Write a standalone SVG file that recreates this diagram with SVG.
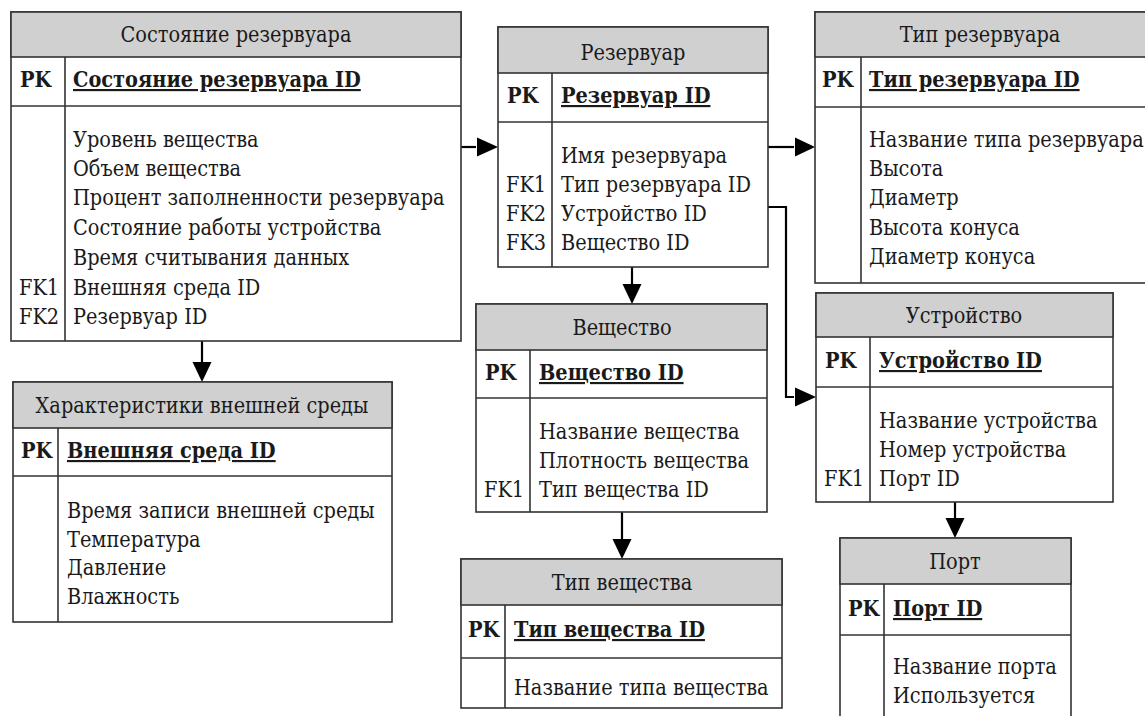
<svg xmlns="http://www.w3.org/2000/svg" width="1145" height="716" viewBox="0 0 1145 716">
<style>
.box{fill:#fff;stroke:#333;stroke-width:1.6}
.hdr{fill:#d0d0d0;stroke:#333;stroke-width:1.6}
.ln{stroke:#333;stroke-width:1.6;fill:none}
text{font-family:'DejaVu Serif Condensed','DejaVu Serif',serif;font-stretch:condensed;font-size:21.5px;fill:#1a1a1a}
.h{text-anchor:middle}
.b{font-weight:bold}
.u{font-weight:bold;text-decoration:underline}
.c{stroke:#000;stroke-width:2.2;fill:none}
</style>
<rect width="1145" height="716" fill="#fff"/>

<g id="connectors">
<path class="c" d="M461,147 H476"/><path d="M477,137.5 L498,147 L477,156.5 Z" fill="#000"/>
<path class="c" d="M768,147 H794"/><path d="M795,137.5 L815,147 L795,156.5 Z" fill="#000"/>
<path class="c" d="M768,207 H786 V397 H794"/><path d="M795,387.5 L816,397 L795,406.5 Z" fill="#000"/>
<path class="c" d="M202,341 V362"/><path d="M192.5,362 L202,382 L211.5,362 Z" fill="#000"/>
<path class="c" d="M632,267 V284"/><path d="M622.5,284 L632,304 L641.5,284 Z" fill="#000"/>
<path class="c" d="M622,512 V539"/><path d="M612.5,539 L622,559 L631.5,539 Z" fill="#000"/>
<path class="c" d="M955,502 V518"/><path d="M945.5,518 L955,538 L964.5,518 Z" fill="#000"/>
</g>

<g id="sostoyanie">
<rect class="box" x="11" y="12" width="450" height="329"/>
<rect class="hdr" x="11" y="12" width="450" height="45"/>
<line class="ln" x1="11" y1="106" x2="461" y2="106"/>
<line class="ln" x1="65" y1="57" x2="65" y2="341"/>
<text class="h" x="236" y="42">Состояние резервуара</text>
<text class="b" x="20" y="87">PK</text>
<text class="u" x="73" y="87">Состояние резервуара ID</text>
<text x="73" y="147">Уровень вещества</text>
<text x="73" y="176">Объем вещества</text>
<text x="73" y="205">Процент заполненности резервуара</text>
<text x="73" y="235">Состояние работы устройства</text>
<text x="73" y="265">Время считывания данных</text>
<text x="19" y="295">FK1</text>
<text x="73" y="295">Внешняя среда ID</text>
<text x="19" y="324">FK2</text>
<text x="73" y="324">Резервуар ID</text>
</g>

<g id="rezervuar">
<rect class="box" x="498" y="27" width="270" height="240"/>
<rect class="hdr" x="498" y="27" width="270" height="46"/>
<line class="ln" x1="498" y1="122" x2="768" y2="122"/>
<line class="ln" x1="552" y1="73" x2="552" y2="267"/>
<text class="h" x="633" y="60">Резервуар</text>
<text class="b" x="507" y="103">PK</text>
<text class="u" x="561" y="103">Резервуар ID</text>
<text x="561" y="163">Имя резервуара</text>
<text x="506" y="192">FK1</text>
<text x="561" y="192">Тип резервуара ID</text>
<text x="506" y="221">FK2</text>
<text x="561" y="221">Устройство ID</text>
<text x="506" y="250">FK3</text>
<text x="561" y="250">Вещество ID</text>
</g>

<g id="tip-rezervuara">
<rect class="box" x="815" y="12" width="340" height="271"/>
<rect class="hdr" x="815" y="12" width="340" height="45"/>
<line class="ln" x1="815" y1="107" x2="1155" y2="107"/>
<line class="ln" x1="861" y1="57" x2="861" y2="283"/>
<text class="h" x="980" y="42">Тип резервуара</text>
<text class="b" x="822" y="87">PK</text>
<text class="u" x="869" y="87">Тип резервуара ID</text>
<text x="869" y="147">Название типа резервуара</text>
<text x="869" y="176">Высота</text>
<text x="869" y="205">Диаметр</text>
<text x="869" y="235">Высота конуса</text>
<text x="869" y="264">Диаметр конуса</text>
</g>

<g id="vneshnyaya-sreda">
<rect class="box" x="13" y="382" width="379" height="240"/>
<rect class="hdr" x="13" y="382" width="379" height="46"/>
<line class="ln" x1="13" y1="476" x2="392" y2="476"/>
<line class="ln" x1="58" y1="428" x2="58" y2="622"/>
<text class="h" x="202" y="413">Характеристики внешней среды</text>
<text class="b" x="21" y="458">PK</text>
<text class="u" x="67" y="458">Внешняя среда ID</text>
<text x="67" y="518">Время записи внешней среды</text>
<text x="67" y="547">Температура</text>
<text x="67" y="575">Давление</text>
<text x="67" y="604">Влажность</text>
</g>

<g id="veshchestvo">
<rect class="box" x="476" y="304" width="291" height="208"/>
<rect class="hdr" x="476" y="304" width="291" height="46"/>
<line class="ln" x1="476" y1="398" x2="767" y2="398"/>
<line class="ln" x1="530" y1="350" x2="530" y2="512"/>
<text class="h" x="622" y="335">Вещество</text>
<text class="b" x="485" y="380">PK</text>
<text class="u" x="539" y="380">Вещество ID</text>
<text x="539" y="439">Название вещества</text>
<text x="539" y="468">Плотность вещества</text>
<text x="484" y="497">FK1</text>
<text x="539" y="497">Тип вещества ID</text>
</g>

<g id="tip-veshchestva">
<rect class="box" x="461" y="559" width="321" height="149"/>
<rect class="hdr" x="461" y="559" width="321" height="46"/>
<line class="ln" x1="461" y1="658" x2="782" y2="658"/>
<line class="ln" x1="505" y1="605" x2="505" y2="708"/>
<text class="h" x="622" y="590">Тип вещества</text>
<text class="b" x="468" y="637">PK</text>
<text class="u" x="514" y="637">Тип вещества ID</text>
<text x="514" y="695">Название типа вещества</text>
</g>

<g id="ustroystvo">
<rect class="box" x="816" y="293" width="297" height="209"/>
<rect class="hdr" x="816" y="293" width="297" height="44"/>
<line class="ln" x1="816" y1="387" x2="1113" y2="387"/>
<line class="ln" x1="870" y1="337" x2="870" y2="502"/>
<text class="h" x="964" y="323">Устройство</text>
<text class="b" x="825" y="368">PK</text>
<text class="u" x="879" y="368">Устройство ID</text>
<text x="879" y="428">Название устройства</text>
<text x="879" y="457">Номер устройства</text>
<text x="824" y="486">FK1</text>
<text x="879" y="486">Порт ID</text>
</g>

<g id="port">
<rect class="box" x="840" y="538" width="231" height="190"/>
<rect class="hdr" x="840" y="538" width="231" height="46"/>
<line class="ln" x1="840" y1="635" x2="1071" y2="635"/>
<line class="ln" x1="884" y1="584" x2="884" y2="728"/>
<text class="h" x="955" y="569">Порт</text>
<text class="b" x="848" y="616">PK</text>
<text class="u" x="893" y="616">Порт ID</text>
<text x="893" y="674">Название порта</text>
<text x="893" y="703">Используется</text>
</g>
</svg>
